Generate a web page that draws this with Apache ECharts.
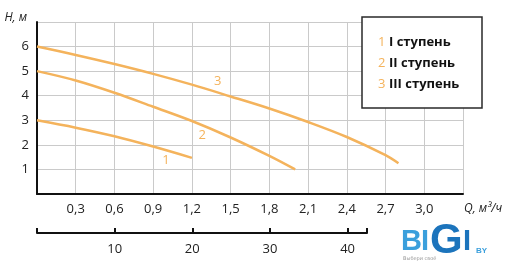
<!DOCTYPE html>
<html><head><meta charset="utf-8">
<script src="https://cdn.jsdelivr.net/npm/echarts@6/dist/echarts.min.js"></script>
<style>html,body{margin:0;padding:0;background:#fff}#c{width:522px;height:263px}</style>
</head><body><div id="c"></div>
<script>
// Flow Q (m³/h) and head H (m) for each stage
const flowQ1 = [0, 0.3, 0.6, 0.9, 1.2];
const head1  = [3.0, 2.7, 2.35, 1.93, 1.47];
const flowQ2 = [0, 0.3, 0.6, 0.9, 1.2, 1.5, 1.8, 2.0];
const head2  = [5.0, 4.62, 4.12, 3.55, 2.97, 2.3, 1.55, 1.0];
const flowQ3 = [0, 0.3, 0.6, 0.9, 1.2, 1.5, 1.8, 2.1, 2.4, 2.7, 2.8];
const head3  = [6.0, 5.66, 5.29, 4.89, 4.45, 3.97, 3.48, 2.93, 2.32, 1.58, 1.25];
const stageNumbers = ['1', '2', '3'];
const stageNames = ['I ступень', 'II ступень', 'III ступень'];
const curveLabelAt = [[1.0, 1.38], [1.28, 2.4], [1.4, 4.6]];
const litreTicks = [10, 20, 30, 40];

const ORANGE = '#F4B35C';
const FONT = 'Open Sans';
const chart = echarts.init(document.getElementById('c'), null, {renderer: 'canvas'});

function pairs(xs, ys) { return xs.map((x, i) => [x, ys[i]]); }
const curves = [pairs(flowQ1, head1), pairs(flowQ2, head2), pairs(flowQ3, head3)];

const series = curves.map((d, i) => ({
  type: 'line', xAxisIndex: 0, yAxisIndex: 0, data: d, smooth: 0.35,
  showSymbol: false, symbol: 'none', silent: true,
  lineStyle: {color: ORANGE, width: 2.5},
  markPoint: {
    symbol: 'rect', symbolSize: 10, itemStyle: {color: 'transparent'},
    label: {show: true, position: 'inside', color: ORANGE, fontSize: 13, fontFamily: FONT, formatter: stageNumbers[i]},
    data: [{coord: curveLabelAt[i]}]
  }
}));
// secondary axis carrier
series.push({type: 'line', xAxisIndex: 1, yAxisIndex: 1, data: [], silent: true});

const legendGraphics = [{
  type: 'rect', shape: {x: 362, y: 17, width: 120, height: 91}, z: 50,
  style: {fill: '#fff', stroke: '#2a2a2a', lineWidth: 1.5}
}];
stageNames.forEach((n, i) => {
  const y = 42 + i * 21;
  legendGraphics.push({type: 'text', x: 378, y: y, z: 51, style: {text: stageNumbers[i], fill: ORANGE, font: '13px "' + FONT + '"', verticalAlign: 'middle'}});
  legendGraphics.push({type: 'text', x: 389, y: y, z: 51, style: {text: n, fill: '#111', font: 'bold 13px "' + FONT + '"', verticalAlign: 'middle'}});
});
const LF = '"Liberation Sans"';
const logo = [
  {type: 'text', x: 401, y: 242, style: {text: 'B', fill: '#3A9FDC', font: 'bold 29px ' + LF, verticalAlign: 'middle'}},
  {type: 'text', x: 421, y: 242, style: {text: 'I', fill: '#3A9FDC', font: 'bold 29px ' + LF, verticalAlign: 'middle'}},
  {type: 'text', x: 430, y: 241, style: {text: 'G', fill: '#1C74BC', font: 'bold 42px ' + LF, verticalAlign: 'middle'}},
  {type: 'text', x: 463, y: 242, style: {text: 'I', fill: '#1C74BC', font: 'bold 29px ' + LF, verticalAlign: 'middle'}},
  {type: 'text', x: 476, y: 251, style: {text: 'BY', fill: '#3A9FDC', font: 'bold 8px ' + LF, verticalAlign: 'middle'}},
  {type: 'text', x: 403, y: 259, style: {text: 'Выбери своё', fill: '#999', font: '5px "DejaVu Sans"', verticalAlign: 'middle'}}
];

chart.setOption({
  animation: false,
  backgroundColor: '#fff',
  textStyle: {fontFamily: FONT},
  grid: [
    {left: 37, top: 22, right: 59, bottom: 69},
    {left: 37, top: 232, right: 155, height: 1}
  ],
  xAxis: [{
    type: 'value', gridIndex: 0, min: 0, max: 3.3, interval: 0.3,
    name: 'Q, м³/ч', nameLocation: 'end', nameGap: 1,
    nameTextStyle: {fontStyle: 'italic', fontSize: 12, color: '#222', fontFamily: FONT, verticalAlign: 'top', padding: [9, 0, 0, 0]},
    axisLine: {show: true, onZero: false, lineStyle: {color: '#111', width: 2}},
    axisTick: {show: false},
    axisLabel: {color: '#222', fontSize: 13, fontFamily: FONT, margin: 9,
      formatter: v => (v < 0.01 || v > 3.1) ? '' : v.toFixed(1).replace('.', ',')},
    splitLine: {show: true, lineStyle: {color: '#cacaca', width: 1}}
  }, {
    type: 'value', gridIndex: 1, min: 0, max: 42.5, interval: 10, position: 'bottom',
    axisLine: {show: true, onZero: false, lineStyle: {color: '#111', width: 2}},
    axisTick: {show: true, inside: true, length: 5, lineStyle: {color: '#111', width: 2}},
    axisLabel: {color: '#222', fontSize: 13, fontFamily: FONT, margin: 10,
      formatter: v => litreTicks.includes(Math.round(v)) ? String(Math.round(v)) : ''},
    splitLine: {show: false}
  }],
  yAxis: [{
    type: 'value', gridIndex: 0, min: 0, max: 7, interval: 1,
    name: 'H, м', nameLocation: 'end', nameGap: 4,
    nameTextStyle: {fontStyle: 'italic', fontSize: 12, color: '#222', fontFamily: FONT, align: 'right', verticalAlign: 'middle', padding: [0, 10, 0, 0]},
    axisLine: {show: true, onZero: false, lineStyle: {color: '#111', width: 2}},
    axisTick: {show: false},
    axisLabel: {color: '#222', fontSize: 13, fontFamily: FONT, margin: 8,
      formatter: v => (v === 0 || v === 7) ? '' : String(v)},
    splitLine: {show: true, lineStyle: {color: '#cacaca', width: 1}}
  }, {
    type: 'value', gridIndex: 1, show: false, min: 0, max: 1
  }],
  series: series,
  graphic: legendGraphics.concat(logo)
});
</script></body></html>
